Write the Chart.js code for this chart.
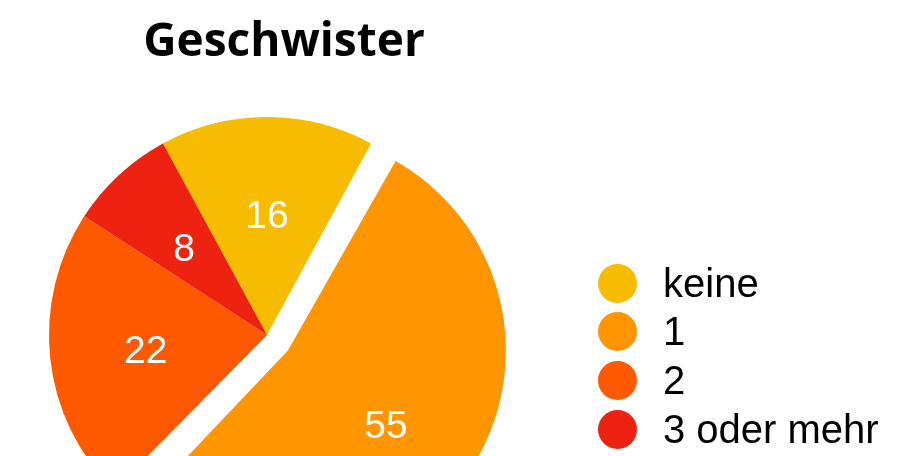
<!DOCTYPE html>
<html lang="de">
<head>
<meta charset="utf-8">
<title>Geschwister</title>
<script src="https://cdn.jsdelivr.net/npm/chart.js@4"></script>
<style>
  html, body { margin: 0; padding: 0; background: #fff; }
  #wrap { position: relative; width: 906px; height: 456px; overflow: hidden; }
  #pie { position: absolute; left: 0; top: 0; }
  .title {
    position: absolute; left: 34px; width: 500px; top: 15px;
    text-align: center; color: #000;
    font: 700 46px/1 'Open Sans', sans-serif;
  }
  .legend-row { position: absolute; left: 598px; height: 40px; }
  .legend-row .dot { position: absolute; left: 0; top: 0; width: 39px; height: 39px; border-radius: 50%; }
  .legend-row .txt {
    position: absolute; left: 65px; top: -1px; white-space: nowrap; color: #000;
    font: 40px/1 'Liberation Sans', Arial, sans-serif;
  }
</style>
</head>
<body>
<div id="wrap">
  <canvas id="pie" width="906" height="670"></canvas>
  <div class="title">Geschwister</div>
  <div id="legend"></div>
</div>
<script>
// data
const categories = ['keine', '1', '2', '3 oder mehr'];
const counts = [16, 55, 22, 8];

// look
const sliceColors = ['#F7BC00', '#FF9500', '#FF5900', '#EE2211'];
const sliceOffsets = [0, 104, 0, 0];   // chart.js moves the arc by offset/4
const PIE_RADIUS = 218;

// chart.js grows an offset arc's radius by offset/4 as well; the reference keeps
// the exploded slice the same size, so shrink it back before drawing
const sliceLabels = {
    id: 'sliceLabels',
    beforeDatasetsDraw(chart) {
        const meta = chart.getDatasetMeta(0);
        meta.data.forEach(arc => {
            arc.outerRadius = PIE_RADIUS - (arc.options.offset || 0) / 4;
        });
    },
    afterDatasetsDraw(chart) {
        const meta = chart.getDatasetMeta(0);
        const ctx = chart.ctx;
        ctx.save();
        ctx.fillStyle = '#fff';
        ctx.font = '39px "Liberation Sans", Arial, sans-serif';
        ctx.textAlign = 'center';
        ctx.textBaseline = 'middle';
        meta.data.forEach((arc, i) => {
            const mid = (arc.startAngle + arc.endAngle) / 2;
            const dist = PIE_RADIUS * 0.56 + (arc.options.offset || 0) / 4;
            ctx.fillText(String(counts[i]), arc.x + Math.cos(mid) * dist, arc.y + Math.sin(mid) * dist + 4.5);
        });
        ctx.restore();
    }
};

new Chart(document.getElementById('pie'), {
    type: 'pie',
    data: {
        labels: categories,
        datasets: [{
            data: counts,
            backgroundColor: sliceColors,
            offset: sliceOffsets,
            borderWidth: 0
        }]
    },
    options: {
        responsive: false,
        animation: false,
        events: [],
        rotation: -28.5,
        radius: PIE_RADIUS,
        layout: { padding: { left: 0, right: 372, top: 0, bottom: 0 } },
        plugins: {
            legend: { display: false },
            title: { display: false },
            tooltip: { enabled: false }
        }
    },
    plugins: [sliceLabels]
});

// legend built from the same arrays
const legend = document.getElementById('legend');
categories.forEach((name, i) => {
    const row = document.createElement('div');
    row.className = 'legend-row';
    row.style.top = (263.5 + i * 48.7) + 'px';
    row.innerHTML = `<span class="dot" style="background:${sliceColors[i]}"></span>` +
                    `<span class="txt">${name}</span>`;
    legend.appendChild(row);
});
</script>
</body>
</html>
